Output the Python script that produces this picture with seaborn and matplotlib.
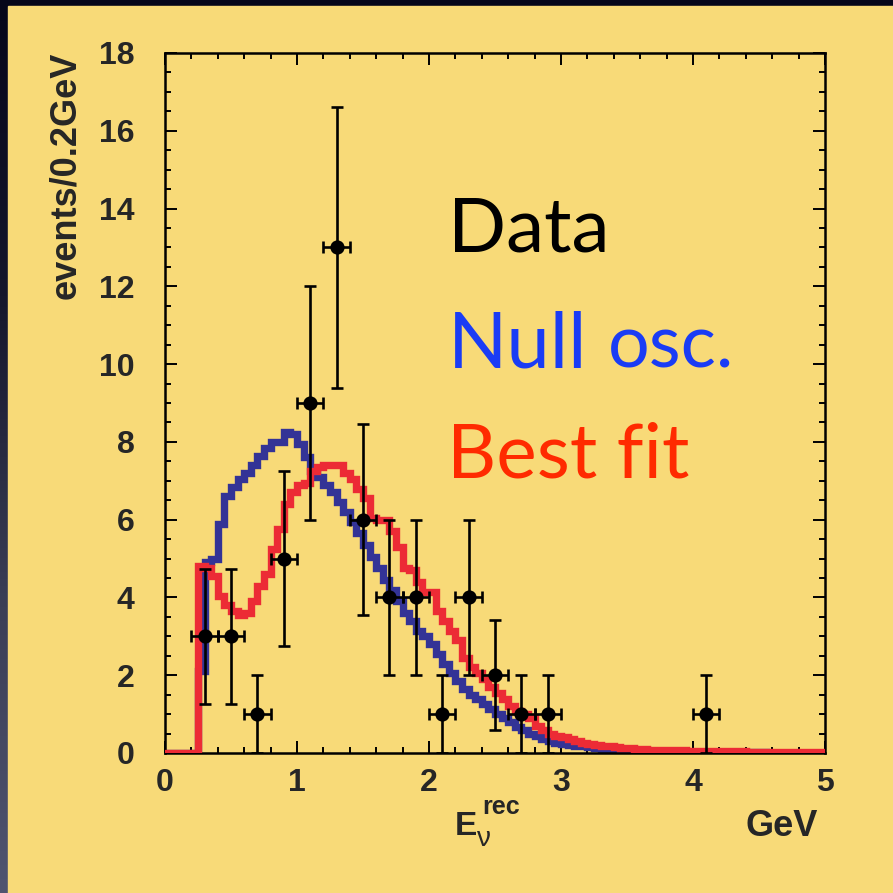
import numpy as np
import pandas as pd
import matplotlib
matplotlib.use("Agg")
import matplotlib.pyplot as plt
import seaborn as sns
from matplotlib.patches import Rectangle
from matplotlib.colors import LinearSegmentedColormap
from matplotlib.ticker import MultipleLocator

# ---------------- data ----------------
bin_width = 0.05  # GeV, histogram bins starting at 0

null_osc = [0, 0, 0, 0, 0, 2.1, 4.9, 5.0, 5.9, 6.6,
            6.85, 7.05, 7.2, 7.4, 7.65, 7.85, 8.0, 8.0, 8.25, 8.2,
            7.95, 7.6, 7.25, 7.1, 6.9, 6.7, 6.45, 6.2, 5.95, 5.65,
            5.35, 5.05, 4.75, 4.45, 4.2, 3.9, 3.6, 3.4, 3.15, 3.0,
            2.8, 2.55, 2.3, 2.05, 1.85, 1.65, 1.5, 1.38, 1.25, 1.12,
            1.0, 0.9, 0.8, 0.68, 0.58, 0.5, 0.43, 0.37, 0.32, 0.27,
            0.24, 0.21, 0.19, 0.17, 0.15, 0.13, 0.11, 0.10, 0.09, 0.08,
            0.07, 0.06, 0.055, 0.05, 0.045, 0.04, 0.035, 0.032, 0.03, 0.027,
            0.025, 0.023, 0.022, 0.02, 0.019, 0.018, 0.017, 0.016, 0.015, 0.014,
            0.013, 0.012, 0.012, 0.011, 0.011, 0.01, 0.01, 0.01, 0.009, 0.009]

best_fit = [0, 0, 0, 0, 0, 4.8, 4.75, 4.55, 4.05, 3.8,
            3.65, 3.55, 3.6, 3.9, 4.3, 4.6, 5.25, 5.75, 6.4, 6.7,
            6.9, 6.95, 7.25, 7.35, 7.4, 7.4, 7.4, 7.2, 7.05, 6.8,
            6.55, 6.05, 6.0, 6.0, 5.7, 5.3, 4.75, 4.7, 4.4, 4.15,
            4.15, 3.65, 3.4, 3.15, 2.9, 2.45, 2.2, 2.05, 1.9, 1.7,
            1.55, 1.38, 1.2, 1.07, 1.0, 0.9, 0.7, 0.6, 0.5, 0.43,
            0.4, 0.35, 0.3, 0.27, 0.24, 0.21, 0.19, 0.17, 0.15, 0.13,
            0.12, 0.11, 0.1, 0.09, 0.085, 0.08, 0.075, 0.07, 0.065, 0.06,
            0.055, 0.052, 0.05, 0.048, 0.046, 0.044, 0.042, 0.04, 0.038, 0.036,
            0.035, 0.034, 0.033, 0.032, 0.031, 0.03, 0.03, 0.029, 0.028, 0.028]

data_E = [0.3, 0.5, 0.7, 0.9, 1.1, 1.3, 1.5, 1.7, 1.9, 2.1, 2.3, 2.5, 2.7, 2.9, 4.1]
data_N = [3, 3, 1, 5, 9, 13, 6, 4, 4, 1, 4, 2, 1, 1, 1]
data_yerr = [1.73, 1.73, 1.0, 2.24, 3.0, 3.61, 2.45, 2.0, 2.0, 1.0, 2.0, 1.41, 1.0, 1.0, 1.0]
data_xerr = [0.1] * len(data_E)

x_ticks = [0, 1, 2, 3, 4, 5]
y_ticks = [0, 2, 4, 6, 8, 10, 12, 14, 16, 18]

# ---------------- style ----------------
sns.set_style("ticks")
plt.rcParams["font.family"] = ["Liberation Sans", "DejaVu Sans"]

W = H = 893
YELLOW = "#F8DA78"
BLUE_LINE = "#333396"
RED_LINE = "#EC2B35"
BLUE_TXT = "#1A3CF5"
RED_TXT = "#FF2A00"

fig = plt.figure(figsize=(W / 100, H / 100), dpi=100)

# background: dark gradient with yellow panel
bg = fig.add_axes([0, 0, 1, 1])
bg.axis("off")
cmap = LinearSegmentedColormap.from_list("bg", ["#06061a", "#15162c", "#3a3d55", "#505470"])
grad = np.linspace(0, 1, 256)[:, None]
bg.imshow(grad, aspect="auto", cmap=cmap, extent=[0, 1, 0, 1], origin="upper")
bg.add_patch(Rectangle((8 / W, 0), 1 - 8 / W, 1 - 6 / H, color=YELLOW, transform=bg.transAxes))
bg.set_xlim(0, 1)
bg.set_ylim(0, 1)

# main axes
L, R, T, B = 165, 825, 53, 753
ax = fig.add_axes([L / W, 1 - B / H, (R - L) / W, (B - T) / H])
ax.set_facecolor("none")

edges = np.round(np.arange(len(null_osc) + 1) * bin_width, 3)
df = pd.DataFrame({
    "E": edges,
    "null": null_osc + [null_osc[-1]],
    "fit": best_fit + [best_fit[-1]],
})

sns.lineplot(data=df, x="E", y="null", drawstyle="steps-post", color=BLUE_LINE,
             linewidth=5.3, solid_joinstyle="miter", ax=ax, zorder=2)
sns.lineplot(data=df, x="E", y="fit", drawstyle="steps-post", color=RED_LINE,
             linewidth=5.3, solid_joinstyle="miter", ax=ax, zorder=3)

ax.errorbar(data_E, data_N, xerr=data_xerr, yerr=data_yerr, fmt="none",
            ecolor="black", elinewidth=1.9, capsize=4.5, capthick=1.9, zorder=4)
sns.scatterplot(x=data_E, y=data_N, color="black", s=105, edgecolor="black",
                linewidth=0, ax=ax, zorder=5, legend=False)

ax.set_xlim(0, 5)
ax.set_ylim(0, 18)
ax.set_xticks(x_ticks)
ax.set_yticks(y_ticks)
ax.xaxis.set_minor_locator(MultipleLocator(0.2))
ax.yaxis.set_minor_locator(MultipleLocator(0.5))
ax.set_xlabel("")
ax.set_ylabel("")
for sp in ax.spines.values():
    sp.set_visible(True)
    sp.set_linewidth(1.8)
    sp.set_color("black")
ax.tick_params(which="both", direction="in", top=True, right=True, width=1.4, color="black")
ax.tick_params(which="major", length=8.5)
ax.tick_params(which="minor", length=4.3)
ax.tick_params(axis="y", which="major", pad=22, labelsize=23)
ax.tick_params(axis="x", which="major", pad=11, labelsize=23)
for lab in ax.get_xticklabels() + ax.get_yticklabels():
    lab.set_fontweight("bold")
    lab.set_family(["Liberation Sans", "DejaVu Sans"])

# axis titles
fig.text(66 / W, 1 - 175 / H, "events/0.2GeV", rotation=90, ha="center", va="center",
         fontsize=26, fontweight="bold", family=["Liberation Sans Narrow", "Liberation Sans", "DejaVu Sans"])
fig.text(455 / W, 1 - 835 / H, "E", ha="left", va="baseline", fontsize=24, fontweight="bold")
fig.text(482 / W, 1 - 814 / H, "rec", ha="left", va="baseline", fontsize=18, fontweight="bold",
         family=["Liberation Sans Narrow", "Liberation Sans", "DejaVu Sans"])
fig.text(477 / W, 1 - 846 / H, "ν", ha="left", va="baseline", fontsize=20)
fig.text(818 / W, 1 - 836 / H, "GeV", ha="right", va="baseline", fontsize=26, fontweight="bold")

# in-plot legend text
gfam = ["Lato", "DejaVu Sans"]
fig.text(448 / W, 1 - 252 / H, "Data", color="black", fontsize=55, family=gfam, va="baseline")
fig.text(448 / W, 1 - 368 / H, "Null", color=BLUE_TXT, fontsize=56, family=gfam, va="baseline")
fig.text(608 / W, 1 - 368 / H, "osc.", color=BLUE_TXT, fontsize=53, family=gfam, va="baseline")
fig.text(447 / W, 1 - 478 / H, "Best fit", color=RED_TXT, fontsize=55, family=gfam, va="baseline")

fig.savefig("out.png", dpi=100)
